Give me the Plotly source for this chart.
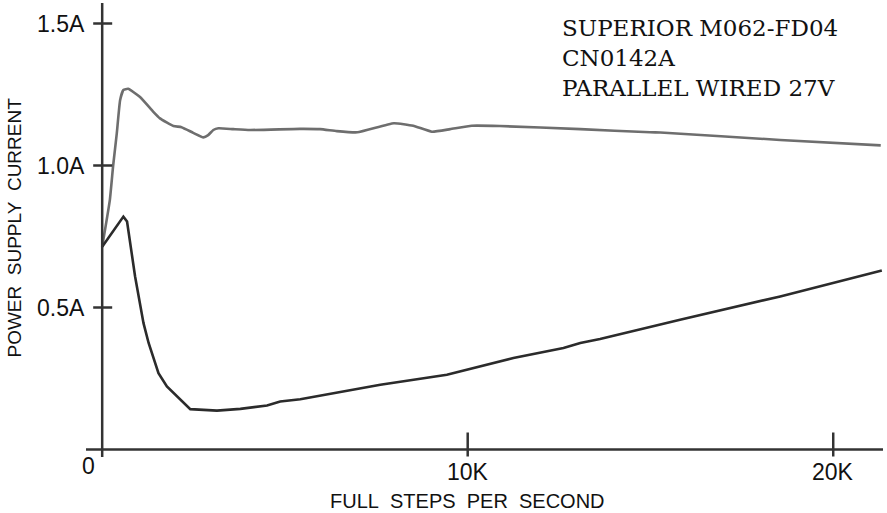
import plotly.graph_objects as go

# ---- data (steps per second, amps) ----
steps_upper = [0, 210, 300, 400, 490, 580, 710, 1035, 1400, 1580, 1950, 2170, 2490, 2770,
               2900, 3040, 3180, 3590, 4040, 5410, 5960, 6420, 6980, 7980, 8510, 9020,
               9520, 10110, 10880, 13080, 14990, 15270, 18550, 21300]
amps_upper = [0.714, 0.879, 1.000, 1.114, 1.230, 1.266, 1.270, 1.241, 1.189, 1.166, 1.139,
              1.135, 1.115, 1.099, 1.107, 1.125, 1.131, 1.128, 1.125, 1.129, 1.128, 1.121,
              1.117, 1.149, 1.140, 1.119, 1.128, 1.140, 1.139, 1.128, 1.117, 1.116, 1.090, 1.071]

steps_lower = [0, 580, 680, 900, 1130, 1270, 1540, 1770, 2410, 3140, 3780, 4510, 4870,
               5420, 7610, 9430, 11250, 12620, 13080, 13620, 15810, 18550, 21330]
amps_lower = [0.714, 0.820, 0.803, 0.609, 0.445, 0.375, 0.269, 0.222, 0.142, 0.137, 0.143,
              0.155, 0.169, 0.177, 0.228, 0.263, 0.322, 0.357, 0.375, 0.389, 0.457, 0.539, 0.630]

x_tick_vals = [10000, 20000]
x_tick_text = ["10K", "20K"]
y_tick_vals = [0.5, 1.0, 1.5]
y_tick_text = ["0.5A", "1.0A", "1.5A"]

title_lines = ["SUPERIOR M062-FD04", "CN0142A", "PARALLEL WIRED 27V"]

AXIS_COLOR = "#333333"
SANS = "Liberation Sans, Arial, sans-serif"

fig = go.Figure()
fig.add_trace(go.Scatter(x=steps_upper, y=amps_upper, mode="lines",
                         line=dict(color="#6e6e6e", width=2.6, shape="spline", smoothing=0.4),
                         hoverinfo="skip"))
fig.add_trace(go.Scatter(x=steps_lower, y=amps_lower, mode="lines",
                         line=dict(color="#2b2b2b", width=2.6), hoverinfo="skip"))

shapes = []
# axis lines
shapes.append(dict(type="line", xref="x", yref="paper", x0=0, x1=0, y0=0, y1=1,
                   line=dict(color=AXIS_COLOR, width=2.5)))
shapes.append(dict(type="line", xref="paper", yref="y", x0=0, x1=1, y0=0, y1=0,
                   line=dict(color=AXIS_COLOR, width=2.5)))
# crossing tick marks
for v in y_tick_vals:
    shapes.append(dict(type="line", xref="x", yref="y", xsizemode="pixel", xanchor=0,
                       x0=-9, x1=10, y0=v, y1=v, line=dict(color=AXIS_COLOR, width=2.5)))
for v in x_tick_vals:
    shapes.append(dict(type="line", xref="x", yref="y", ysizemode="pixel", yanchor=0,
                       x0=v, x1=v, y0=-7, y1=17, line=dict(color=AXIS_COLOR, width=2.5)))

annotations = []
for v, t in zip(y_tick_vals, y_tick_text):
    annotations.append(dict(x=0, y=v, xref="x", yref="y", text=t, showarrow=False,
                            xanchor="right", yanchor="middle", xshift=-15,
                            font=dict(family=SANS, size=23, color="#111111")))
for v, t in zip(x_tick_vals, x_tick_text):
    annotations.append(dict(x=v, y=0, xref="x", yref="y", text=t, showarrow=False,
                            xanchor="center", yanchor="middle", yshift=-22,
                            font=dict(family=SANS, size=23, color="#111111")))
annotations.append(dict(x=0, y=0, xref="x", yref="y", text="0", showarrow=False,
                        xanchor="center", yanchor="middle", xshift=-14, yshift=-16,
                        font=dict(family=SANS, size=23, color="#111111")))
# axis titles
annotations.append(dict(x=10000, y=0, xref="x", yref="y",
                        text="FULL\u00a0\u00a0STEPS\u00a0\u00a0PER\u00a0\u00a0SECOND",
                        showarrow=False, xanchor="center", yanchor="middle", yshift=-51,
                        font=dict(family=SANS, size=20, color="#111111")))
annotations.append(dict(x=-0.090, y=0.506, xref="paper", yref="paper",
                        text="POWER\u00a0\u00a0SUPPLY\u00a0\u00a0CURRENT",
                        showarrow=False, textangle=-90, xanchor="center", yanchor="middle",
                        font=dict(family=SANS, size=19, color="#111111")))
# header text
annotations.append(dict(x=0.595, y=0.978, xref="paper", yref="paper",
                        text="<br>".join(title_lines), showarrow=False, align="left",
                        xanchor="left", yanchor="top",
                        font=dict(family="DejaVu Serif, serif", size=23, color="#111111")))

fig.update_layout(
    width=887, height=513,
    margin=dict(l=86, r=4, t=3, b=56),
    paper_bgcolor="white", plot_bgcolor="white",
    showlegend=False,
    xaxis=dict(range=[-443, 21362], showgrid=False, zeroline=False, showline=False,
               showticklabels=False, ticks=""),
    yaxis=dict(range=[-0.0264, 1.5722], showgrid=False, zeroline=False, showline=False,
               showticklabels=False, ticks=""),
    shapes=shapes,
    annotations=annotations,
)

fig.write_html("out.html", config={"displayModeBar": False},
               post_script="document.body.style.margin='0';")
